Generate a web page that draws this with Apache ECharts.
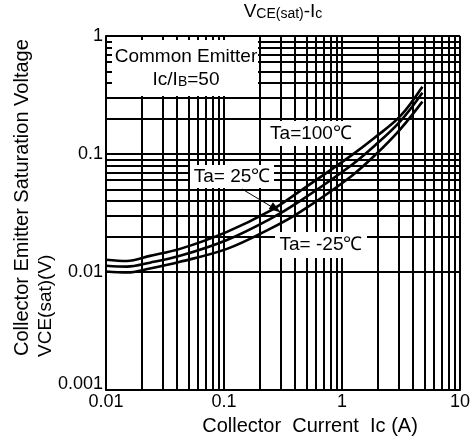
<!DOCTYPE html>
<html><head><meta charset="utf-8">
<script src="https://cdn.jsdelivr.net/npm/echarts@6/dist/echarts.min.js"></script>
<style>html,body{margin:0;padding:0;background:#fff}#c{width:474px;height:441px}</style>
</head><body><div id="c"></div>
<script>
// Data
const currentA = [0.01, 0.015, 0.0236, 0.0424, 0.106, 0.245, 0.44, 1.17, 1.9, 3.1, 4.8];
const vTa100 = [0.0127, 0.0124, 0.0137, 0.0157, 0.0219, 0.0329, 0.0485, 0.0955, 0.138, 0.208, 0.372];
const vTa25 = [0.0113, 0.0111, 0.0120, 0.0137, 0.0187, 0.0281, 0.0399, 0.0787, 0.118, 0.188, 0.331];
const vTaM25 = [0.0101, 0.0099, 0.0107, 0.0122, 0.0157, 0.0232, 0.0322, 0.0636, 0.0975, 0.161, 0.278];
const xMinor = [0.02,0.03,0.04,0.05,0.06,0.07,0.08,0.09, 0.2,0.3,0.4,0.5,0.6,0.7,0.8,0.9, 2,3,4,5,6,7,8,9];
const yMinor = [0.002,0.003,0.004,0.005,0.006,0.007,0.008,0.009, 0.02,0.03,0.04,0.05,0.06,0.07,0.08,0.09, 0.2,0.3,0.4,0.5,0.6,0.7,0.8,0.9];
const seriesNames = ['Ta=100℃', 'Ta= 25℃', 'Ta= -25℃'];

const FONT = 'Liberation Sans, Arial, sans-serif';
const chart = echarts.init(document.getElementById('c'), null, {renderer: 'canvas'});
const pairs = arr => currentA.map((x, i) => [x, arr[i]]);
const curve = (name, arr) => ({
  name, type: 'line', data: pairs(arr), smooth: 0.35, symbol: 'none',
  lineStyle: {color: '#000', width: 2.6}, z: 5, silent: true
});
const gridLine = {color: '#000', width: 2, type: 'solid'};

chart.setOption({
  animation: false,
  backgroundColor: '#fff',
  grid: {left: 106, right: 14, top: 36, bottom: 49, containLabel: false},
  xAxis: {
    type: 'log', logBase: 10, min: 0.01, max: 10,
    axisLine: {show: true, lineStyle: {color: '#000', width: 2}},
    axisTick: {show: false},
    splitLine: {show: true, lineStyle: gridLine},
    axisLabel: {color: '#000', fontSize: 18, fontFamily: FONT, margin: 3,
      formatter: v => String(+(+v).toPrecision(3))},
    name: 'Collector  Current  Ic (A)', nameLocation: 'middle', nameGap: 26,
    nameTextStyle: {color: '#000', fontSize: 20, fontFamily: FONT, padding: [0, 0, 0, 54]}
  },
  yAxis: {
    type: 'log', logBase: 10, min: 0.001, max: 1,
    axisLine: {show: true, lineStyle: {color: '#000', width: 2}},
    axisTick: {show: false},
    splitLine: {show: true, lineStyle: gridLine},
    axisLabel: {color: '#000', fontSize: 18, fontFamily: FONT, margin: 3,
      formatter: v => { const s = String(+(+v).toPrecision(3)); return s === '0.001' ? '{low|' + s + '}' : s; },
      rich: {low: {fontSize: 18, fontFamily: FONT, color: '#000', padding: [0, 0, 12, 0]}}}
  },
  series: [
    {
      type: 'line', data: [], silent: true,
      markLine: {
        silent: true, symbol: 'none', animation: false, label: {show: false},
        lineStyle: gridLine,
        data: xMinor.map(v => ({xAxis: v})).concat(yMinor.map(v => ({yAxis: v})))
      }
    },
    curve(seriesNames[0], vTa100),
    curve(seriesNames[1], vTa25),
    curve(seriesNames[2], vTaM25)
  ],
  graphic: [
    {type: 'text', z: 100, style: {x: 283, y: 21, align: 'center', verticalAlign: 'bottom',
      text: '{b|V}{s|CE(sat)}{b|-I}{s|c}', fill: '#000',
      rich: {b: {fontSize: 19, fontFamily: FONT, fill: '#000', verticalAlign: 'bottom'},
             s: {fontSize: 14, fontFamily: FONT, fill: '#000', verticalAlign: 'bottom'}}}},
    {type: 'text', z: 100, x: 22, y: 356, rotation: Math.PI / 2,
      style: {x: 0, y: 0, align: 'left', verticalAlign: 'middle', text: 'Collector Emitter Saturation Voltage',
        fontSize: 20, fontFamily: FONT, fill: '#000'}},
    {type: 'text', z: 100, x: 46, y: 357, rotation: Math.PI / 2,
      style: {x: 0, y: 0, align: 'left', verticalAlign: 'middle', text: 'VCE(sat)(V)',
        fontSize: 19, fontFamily: FONT, fill: '#000'}},
    // Condition box
    {type: 'rect', z: 100, shape: {x: 112, y: 40, width: 146, height: 56}, style: {fill: '#fff'}},
    {type: 'text', z: 101, style: {x: 186, y: 57, align: 'center', verticalAlign: 'middle',
      text: 'Common Emitter', fontSize: 19, fontFamily: FONT, fill: '#000'}},
    {type: 'text', z: 101, style: {x: 186, y: 89, align: 'center', verticalAlign: 'bottom',
      text: '{n|Ic/I}{s|B}{n|=50}', fill: '#000',
      rich: {n: {fontSize: 19, fontFamily: FONT, fill: '#000', verticalAlign: 'bottom'},
             s: {fontSize: 14, fontFamily: FONT, fill: '#000', verticalAlign: 'bottom'}}}},
    // Curve labels
    {type: 'rect', z: 100, shape: {x: 266, y: 121, width: 89, height: 25}, style: {fill: '#fff'}},
    {type: 'text', z: 101, style: {x: 311, y: 134, align: 'center', verticalAlign: 'middle',
      text: seriesNames[0], fontSize: 19, fontFamily: FONT, fill: '#000'}},
    {type: 'rect', z: 100, shape: {x: 190, y: 165, width: 84, height: 23}, style: {fill: '#fff'}},
    {type: 'text', z: 101, style: {x: 232, y: 177, align: 'center', verticalAlign: 'middle',
      text: seriesNames[1], fontSize: 19, fontFamily: FONT, fill: '#000'}},
    {type: 'rect', z: 100, shape: {x: 275, y: 232, width: 92, height: 26}, style: {fill: '#fff'}},
    {type: 'text', z: 101, style: {x: 321, y: 245, align: 'center', verticalAlign: 'middle',
      text: seriesNames[2], fontSize: 19, fontFamily: FONT, fill: '#000'}},
    // Arrow for Ta=25
    {type: 'line', z: 102, shape: {x1: 242, y1: 189, x2: 272, y2: 207}, style: {stroke: '#000', lineWidth: 1}},
    {type: 'polygon', z: 102, shape: {points: [[281, 212.5], [268.7, 209.1], [272.9, 202.3]]}, style: {fill: '#000'}}
  ]
});
</script>
</body></html>
